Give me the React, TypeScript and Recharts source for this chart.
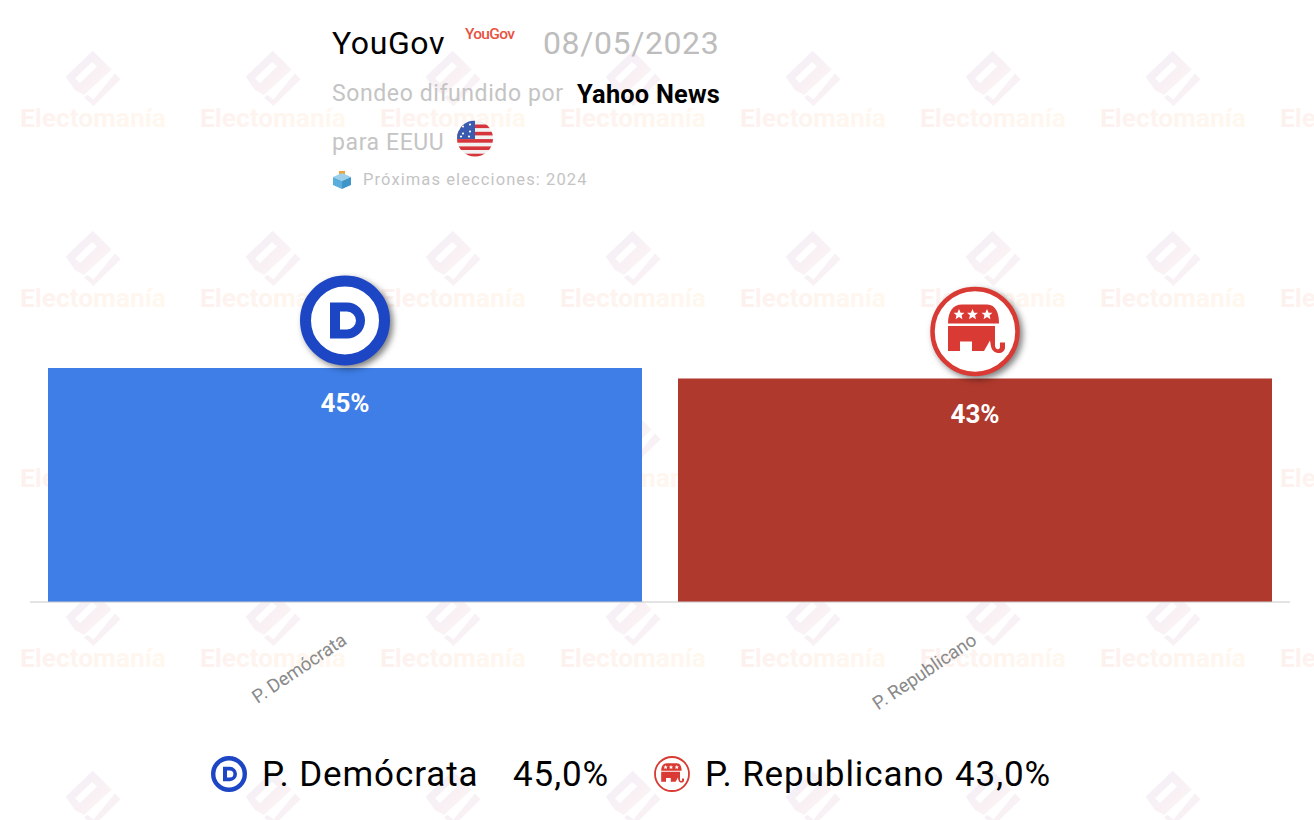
import React from "react";
import { BarChart, Bar, XAxis, YAxis, Cell, LabelList } from "recharts";

const parties = ["P. Demócrata", "P. Republicano"];
const partyKeys = ["dem", "rep"];
const shares = [45, 43];
const barColors = ["#3e7ee6", "#b0392d"];
const pollster = "YouGov";
const pollDate = "08/05/2023";
const sponsor = "Yahoo News";
const rows = parties.map((party, i) => ({ party, key: partyKeys[i], share: shares[i] }));
const FONT = "Roboto, sans-serif";
const SHADOW = "drop-shadow(3px 3px 3px rgba(0,0,0,.5))";

function DemLogo({ cx, cy, scale = 1, shadow = false }: any) {
  return (
    <g transform={`translate(${cx},${cy}) scale(${scale})`} style={shadow ? { filter: SHADOW } : undefined}>
      <circle r={39.5} fill="#fff" stroke="#1c46c4" strokeWidth={11} />
      <path fillRule="evenodd" fill="#1c46c4" d="M-15,-18 H2 A18,18 0 0 1 2,18 H-15 Z M-5,-9 V9 H2 A9,9 0 0 0 2,-9 Z" />
    </g>
  );
}

function Star({ x, y }: any) {
  return <polygon transform={`translate(${x},${y}) scale(0.68)`} fill="#fff" points="0,-8 2.4,-2.6 8,-2.4 3.8,1.4 5,7 0,4 -5,7 -3.8,1.4 -8,-2.4 -2.4,-2.6" />;
}

function RepLogo({ cx, cy, scale = 1, shadow = false }: any) {
  const red = "#d93a33";
  return (
    <g transform={`translate(${cx},${cy}) scale(${scale})`} style={shadow ? { filter: SHADOW } : undefined}>
      <circle r={42.5} fill="#fff" stroke={red} strokeWidth={4.5} />
      <path fill={red} d="M-27,-8 C-27,-20 -22,-27 -13,-27 H12 C21,-27 24,-18 24,-8 Z" />
      <path fill={red} d="M-27,-5.5 H20 V14 C20,18 24,19 25,16 V11 H30 V16 C30,23 18,24 16,15 L15,9 L9,19.5 H-3 V10 H-15 V19.5 H-27 Z" />
      <Star x={-16} y={-17} />
      <Star x={-2.5} y={-17} />
      <Star x={12} y={-17} />
    </g>
  );
}

function Watermark() {
  const cols = [0, 1, 2, 3, 4, 5, 6, 7];
  const lines = [0, 1, 2, 3, 4];
  return (
    <svg width={1314} height={820} style={{ position: "absolute", left: 0, top: 0 }}>
      <defs>
        <linearGradient id="wmText" x1="0" x2="1" y1="0" y2="0">
          <stop offset="0" stopColor="#fdf1ef" />
          <stop offset="1" stopColor="#fff8ef" />
        </linearGradient>
        <linearGradient id="wmMark" x1="0" x2="1" y1="0" y2="1">
          <stop offset="0" stopColor="#f2f0f9" />
          <stop offset="0.6" stopColor="#f9f1f4" />
          <stop offset="1" stopColor="#fdf7f0" />
        </linearGradient>
      </defs>
      {cols.map((c) =>
        lines.map((l) => (
          <g key={`${c}-${l}`} transform={`translate(${c * 180},${l * 180})`}>
            <path fill="url(#wmMark)" fillRule="evenodd" d="M92.7,50.7 L111.7,69.5 L84,95 L75,90 L65.7,76.7 Z M75,78.5 L80,83 L97,66.5 L92,62 Z" />
            <path fill="url(#wmMark)" d="M115,73.5 L120.7,79.3 L93.5,106 L84,97.5 L87.5,95 L93.5,99.5 Z" />
            {l < 4 && (
              <text x={20} y={127} fontFamily={FONT} fontWeight={700} fontSize={26.3} fill="url(#wmText)">Electomanía</text>
            )}
          </g>
        ))
      )}
    </svg>
  );
}

function Flag({ cx, cy, r }: any) {
  const stripes = [0, 1, 2, 3, 4];
  return (
    <g>
      <clipPath id="flagClip"><circle cx={cx} cy={cy} r={r} /></clipPath>
      <g clipPath="url(#flagClip)">
        <rect x={cx - r} y={cy - r} width={2 * r} height={2 * r} fill="#f2f2f2" />
        {stripes.map((s) => (
          <rect key={s} x={cx - r} y={cy - r + 4 + s * 7.3} width={2 * r} height={3.6} fill="#d5353b" />
        ))}
        <rect x={cx - r} y={cy - r} width={r} height={r + 0.5} fill="#3a5bb0" />
        {[[-12, -12], [-5, -14], [-12, -5], [-5, -7], [-14, -2], [-6, -2]].map(([dx, dy], i) => (
          <circle key={i} cx={cx + dx} cy={cy + dy} r={1.1} fill="#fff" />
        ))}
      </g>
    </g>
  );
}

function Ballot() {
  return (
    <g>
      <path fill="#f0a23c" d="M339,171 h6 v6 h-6 Z" />
      <path fill="#9cd0ea" d="M333,177 L342,173 L351,177 L342,181 Z" />
      <path fill="#5aaedc" d="M333,177 L342,181 V189 L333,185 Z" />
      <path fill="#3f94c8" d="M351,177 L342,181 V189 L351,185 Z" />
    </g>
  );
}

function AngledTick({ x, y, payload }: any) {
  return (
    <text
      x={x + 3}
      y={y + 33}
      textAnchor="end"
      fontFamily={FONT}
      fontSize={18.6}
      fill="#8a8a8a"
      transform={`rotate(-34 ${x + 3} ${y + 33})`}
    >
      {payload.value}
    </text>
  );
}

function LogoLabel({ x, y, width, index }: any) {
  const cx = x + width / 2;
  return rows[index].key === "dem" ? (
    <DemLogo cx={cx} cy={y - 47.5} shadow />
  ) : (
    <RepLogo cx={cx} cy={y - 47} shadow />
  );
}

const abs = (left: number, top: number, size: number, color: string, extra: any = {}) => ({
  position: "absolute" as const,
  left,
  top,
  fontSize: size,
  color,
  fontFamily: FONT,
  lineHeight: "40px",
  whiteSpace: "nowrap" as const,
  ...extra,
});

const pct = (v: number) => v.toFixed(1).replace(".", ",") + "%";

export default function App() {
  return (
    <div style={{ position: "absolute", left: 0, top: 0, width: 1314, height: 820, background: "#fff", overflow: "hidden" }}>
      <Watermark />
      <div style={{ position: "absolute", left: 0, top: 0 }}>
        <BarChart width={1314} height={820} data={rows} margin={{ top: 82, left: 30, right: 24, bottom: 118 }} barCategoryGap={18}>
          <YAxis hide domain={[0, 100]} />
          <XAxis dataKey="party" height={100} interval={0} axisLine={{ stroke: "#c8c8c8" }} tickLine={false} tick={<AngledTick />} />
          <Bar dataKey="share" isAnimationActive={false}>
            {rows.map((r, i) => (
              <Cell key={r.key} fill={barColors[i]} />
            ))}
            <LabelList dataKey="share" position="insideTop" offset={26} formatter={(v: any) => `${v}%`} fill="#fff" fontFamily={FONT} fontWeight={700} fontSize={26} />
            <LabelList dataKey="share" content={<LogoLabel />} />
          </Bar>
        </BarChart>
      </div>
      <svg width={1314} height={820} style={{ position: "absolute", left: 0, top: 0, pointerEvents: "none" }}>
        <text x={465} y={39} fontFamily={FONT} fontSize={15.5} fontWeight={500} letterSpacing={-0.7} fill="#e8523f">YouGov</text>
        <Flag cx={475} cy={138.5} r={18} />
        <Ballot />
        <DemLogo cx={229} cy={774} scale={0.4} />
        <RepLogo cx={672} cy={774} scale={0.4} />
      </svg>
      <div style={abs(332, 23, 32, "#000", { letterSpacing: 0.6 })}>{pollster}</div>
      <div style={abs(543, 23, 32, "#bdbdbd", { letterSpacing: 0.6 })}>{pollDate}</div>
      <div style={abs(332, 74, 23, "#c4c4c4", { letterSpacing: 0.6 })}>Sondeo difundido por</div>
      <div style={abs(577, 74, 25.4, "#000", { fontWeight: 700, letterSpacing: 0.2 })}>{sponsor}</div>
      <div style={abs(332, 123, 23, "#c4c4c4", { letterSpacing: 0.6 })}>para EEUU</div>
      <div style={abs(363, 160, 16.5, "#c4c4c4", { letterSpacing: 1.1 })}>Próximas elecciones: 2024</div>
      <div style={abs(262, 755, 35, "#000", { letterSpacing: 0.9 })}>{parties[0]}</div>
      <div style={abs(513, 755, 35, "#000", { letterSpacing: 0.9 })}>{pct(shares[0])}</div>
      <div style={abs(705, 755, 35, "#000", { letterSpacing: 0.9 })}>{parties[1]}</div>
      <div style={abs(955, 755, 35, "#000", { letterSpacing: 0.9 })}>{pct(shares[1])}</div>
    </div>
  );
}
